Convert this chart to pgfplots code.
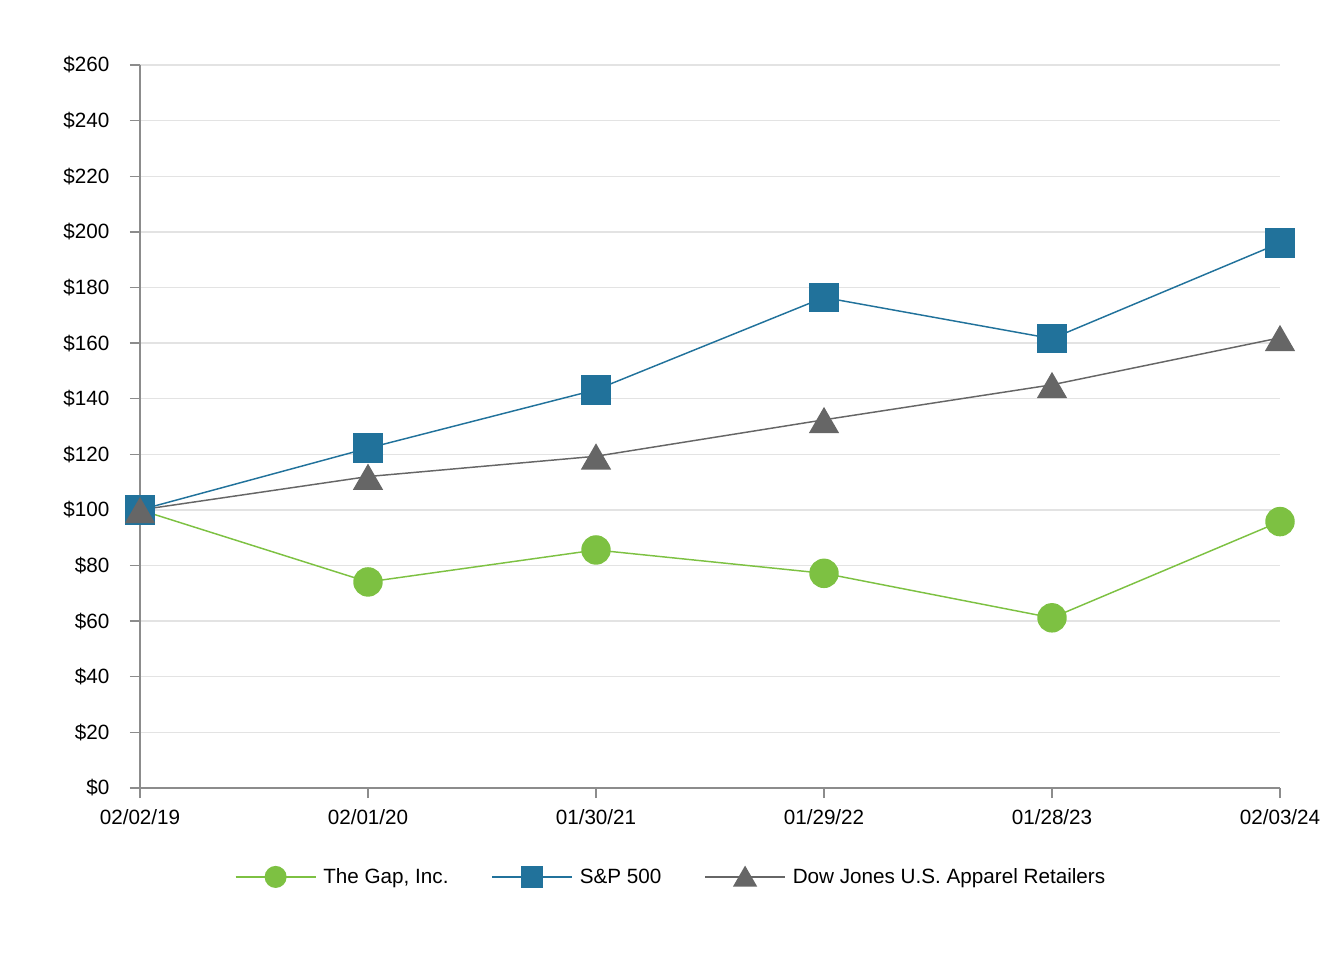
\documentclass[border=0pt]{standalone}
\usepackage{pgfplots}
\pgfplotsset{compat=1.18}
\usepackage{fontspec}
\setmainfont{Liberation Sans}
\definecolor{gapgreen}{HTML}{7DC142}
\definecolor{spblue}{HTML}{21729B}
\definecolor{djgray}{HTML}{666666}
\definecolor{gridgray}{HTML}{E3E3E3}
\definecolor{axgray}{HTML}{8C8C8C}
\begin{document}
\begin{tikzpicture}
\path[use as bounding box] (-105pt,-129pt) rectangle (903pt,591pt);
\begin{axis}[
  at={(0pt,0pt)}, anchor=south west,
  scale only axis, width=855pt, height=542.25pt,
  xmin=0, xmax=5, ymin=0, ymax=260,
  axis lines*=left,
  axis line style={axgray, line width=1.2pt},
  xtick={0,1,2,3,4,5},
  xticklabels={02/02/19,02/01/20,01/30/21,01/29/22,01/28/23,02/03/24},
  ytick={0,20,...,260},
  yticklabels={\$0,\$20,\$40,\$60,\$80,\$100,\$120,\$140,\$160,\$180,\$200,\$220,\$240,\$260},
  tick align=outside, major tick length=7.5pt,
  tick style={axgray, line width=1pt},
  ymajorgrids, grid style={gridgray, line width=1pt},
  ticklabel style={font=\fontsize{15.5pt}{18pt}\selectfont, text=black},
  xticklabel style={yshift=-5pt},
  yticklabel style={xshift=-12pt},
  clip=false,
  legend columns=3,
  legend style={draw=none, at={(0.466,-0.123)}, anchor=center,
    font=\fontsize{15.5pt}{18pt}\selectfont,
    /tikz/every even column/.append style={column sep=30pt},
    /tikz/every odd column/.append style={column sep=3pt}},
]
\addplot[gapgreen, line width=1.1pt, mark=*, mark size=10.5pt, mark options={solid, draw=none, fill=gapgreen},
  legend image code/.code={\draw[line width=1.5pt, mark size=7.5pt, mark repeat=2, mark phase=2] plot coordinates {(0pt,0pt) (30pt,0pt) (60pt,0pt)};}]
  coordinates {(0,100) (1,74.1) (2,85.6) (3,77.2) (4,61.2) (5,95.8)};
\addlegendentry{The Gap, Inc.}
\addplot[spblue, line width=1.1pt, mark=square*, mark size=10.5pt, mark options={solid, draw=none, fill=spblue},
  legend image code/.code={\draw[line width=1.5pt, mark size=7.5pt, mark repeat=2, mark phase=2] plot coordinates {(0pt,0pt) (30pt,0pt) (60pt,0pt)};}]
  coordinates {(0,100) (1,122.2) (2,143.2) (3,176.4) (4,161.6) (5,196.0)};
\addlegendentry{S\&P 500}
\addplot[djgray, line width=1.1pt, mark=triangle*, mark size=12pt, mark options={solid, draw=none, fill=djgray, yshift=-3.4pt},
  legend image code/.code={\draw[line width=1.5pt, mark size=9pt, mark repeat=2, mark phase=2, mark options={yshift=-2pt}] plot coordinates {(0pt,0pt) (30pt,0pt) (60pt,0pt)};}]
  coordinates {(0,100) (1,112.0) (2,119.3) (3,132.4) (4,145.0) (5,161.9)};
\addlegendentry{Dow Jones U.S. Apparel Retailers}
\end{axis}
\end{tikzpicture}
\end{document}
